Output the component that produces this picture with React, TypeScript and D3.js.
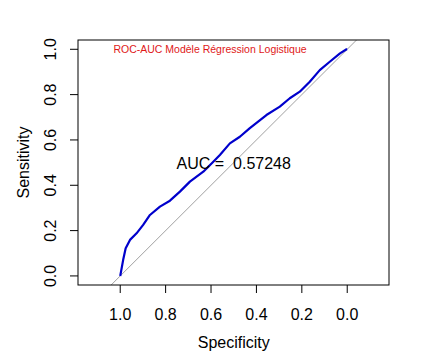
import React from "react";
import * as d3 from "d3";

const specificity = [1.0, 0.987, 0.976, 0.957, 0.928, 0.899, 0.869, 0.825, 0.781, 0.737, 0.693, 0.634, 0.59, 0.561, 0.517, 0.473, 0.429, 0.356, 0.297, 0.253, 0.209, 0.165, 0.121, 0.077, 0.032, 0.003, 0.0];
const sensitivity = [0.0, 0.071, 0.122, 0.159, 0.188, 0.225, 0.269, 0.306, 0.332, 0.372, 0.416, 0.46, 0.504, 0.534, 0.585, 0.614, 0.652, 0.71, 0.747, 0.784, 0.813, 0.857, 0.908, 0.945, 0.982, 1.0, 1.0];
const tickValues = [1.0, 0.8, 0.6, 0.4, 0.2, 0.0];
const title = "ROC-AUC Modèle Régression Logistique";
const aucLabel = "AUC =  0.57248";

export default function App() {
  const W = 430, H = 364;
  const left = 78, right = 389, top = 40, bottom = 285;
  const x = d3.scaleLinear().domain([1.186, -0.184]).range([left, right]);
  const y = d3.scaleLinear().domain([-0.04, 1.041]).range([bottom, top]);
  const line = d3.line<number>().x((d, i) => x(specificity[i])).y((d, i) => y(sensitivity[i])).curve(d3.curveLinear);
  const font = "'Liberation Sans', Arial, sans-serif";
  const diag = [[1.186, -0.186], [-0.184, 1.184]];
  return (
    <svg width={W} height={H} style={{ position: "absolute", left: 0, top: 0, background: "#fff" }}>
      <defs>
        <clipPath id="plotclip">
          <rect x={left} y={top} width={right - left} height={bottom - top} />
        </clipPath>
      </defs>
      <rect x={0} y={0} width={W} height={H} fill="#fff" />
      <g clipPath="url(#plotclip)">
        <line x1={x(diag[0][0])} y1={y(diag[0][1])} x2={x(diag[1][0])} y2={y(diag[1][1])} stroke="#a0a0a0" strokeWidth={1} />
        <path d={line(specificity) || ""} fill="none" stroke="#0000cc" strokeWidth={2.2} strokeLinejoin="round" />
      </g>
      <rect x={left} y={top} width={right - left} height={bottom - top} fill="none" stroke="#000" strokeWidth={1} />
      {tickValues.map((t) => (
        <g key={"x" + t}>
          <line x1={x(t)} x2={x(t)} y1={bottom} y2={bottom + 8} stroke="#000" />
          <text x={x(t)} y={320} textAnchor="middle" fontFamily={font} fontSize={16} fill="#000">{t.toFixed(1)}</text>
        </g>
      ))}
      {tickValues.map((t) => (
        <g key={"y" + t}>
          <line x1={left} x2={left - 8} y1={y(t)} y2={y(t)} stroke="#000" />
          <text transform={`translate(56,${y(t)}) rotate(-90)`} textAnchor="middle" fontFamily={font} fontSize={16} fill="#000">{t.toFixed(1)}</text>
        </g>
      ))}
      <text x={x(0.5)} y={348} textAnchor="middle" fontFamily={font} fontSize={16} fill="#000">Specificity</text>
      <text transform={`translate(29,${(top + bottom) / 2}) rotate(-90)`} textAnchor="middle" fontFamily={font} fontSize={16} fill="#000">Sensitivity</text>
      <text x={210} y={53} textAnchor="middle" fontFamily={font} fontSize={10.5} fill="#e01818">{title}</text>
      <text x={x(0.5)} y={y(0.5) + 6} textAnchor="middle" fontFamily={font} fontSize={16} fill="#000" style={{ whiteSpace: "pre" }}>{aucLabel}</text>
    </svg>
  );
}
